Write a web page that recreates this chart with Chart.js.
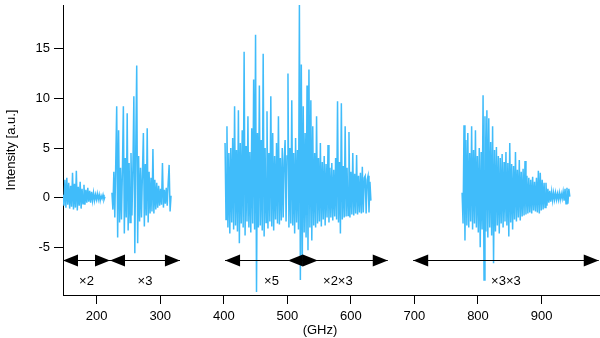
<!DOCTYPE html>
<html>
<head>
<meta charset="utf-8">
<script src="https://cdn.jsdelivr.net/npm/chart.js@4/dist/chart.umd.min.js"></script>
<style>
  html, body { margin: 0; padding: 0; background: #fff; }
</style>
</head>
<body>
<canvas id="chart" width="600" height="338"></canvas>
<script>
// spectrum pieces, sampled every 1.5 GHz from their start frequency
const step = 1.5;
const seg1Start = 147;
const seg1 = [0.3,-0.8,1.8,-1.0,2.0,-0.7,1.5,-1.1,1.2,-0.9,2.5,-1.2,1.4,-1.0,2.7,-1.3,1.1,-0.8,1.6,-1.1,
  0.9,-0.6,1.3,-0.7,0.8,-0.5,1.0,-0.4,0.7,-0.5,0.6,-0.3,0.5,-0.3,0.3,-0.2,0.4,-0.2,0.3,-0.3,0.2,-0.1,0.3,-0.2,0.1];
const seg2Start = 224;
const seg2 = [0.5,-1.2,2.6,-2.0,3.5,9.2,-4.0,6.8,-2.5,3.0,-2.2,2.8,9.2,-3.6,4.0,-2.0,8.5,-3.3,3.5,-2.5,
  4.5,-1.8,3.0,10.2,-5.6,5.0,13.3,-4.6,4.2,-2.4,3.0,-2.0,2.5,6.5,-2.9,3.4,-1.8,7.0,-2.5,2.6,
  -1.6,2.0,-1.4,4.9,-1.6,1.8,-1.2,1.5,-1.0,1.2,-0.8,0.9,-0.7,3.5,-1.0,0.8,-0.6,1.0,-0.8,1.5,3.3,-1.4,0.2];
const seg3Start = 402;
const seg3 = [5.5,-2.2,7.2,-3.0,4.5,-3.6,5.0,-2.5,6.0,-3.2,9.2,-2.8,4.8,-3.4,8.8,-4.6,5.5,-2.6,6.8,-3.0,
  14.7,-3.8,5.2,-2.4,8.2,-3.0,4.6,-3.5,7.0,-2.6,11.9,-3.2,16.4,-9.5,6.5,-3.0,11.3,-2.8,5.8,-3.3,
  14.5,-3.9,5.0,-2.5,8.7,-3.1,4.5,-2.4,10.2,-2.9,6.5,-3.3,4.2,-2.2,5.5,-2.6,8.2,-2.7,4.0,-2.3,
  5.0,-2.0,3.8,5.8,-2.4,4.2,12.5,-3.0,5.0,-2.6,9.8,-2.8,4.5,-3.6,6.0,-2.5,4.8,-3.2,19.5,-8.3,
  13.4,-6.6,9.2,-3.5,6.5,-4.0,11.3,-5.3,12.9,-3.0,9.8,-4.3,7.2,-2.8,4.5,-3.0,8.2,-2.6,4.0,-2.4,
  5.5,-2.9,3.6,-2.2,4.2,-2.8,3.4,-2.0,5.3,-2.5,3.0,-2.0,3.5,-2.3,2.8,-1.9,4.0,-2.2,9.7,-2.5,
  3.6,-3.6,9.5,-2.2,3.2,-2.0,7.2,-1.9,3.0,-1.8,6.6,-2.0,2.6,-1.7,4.5,-1.8,2.4,-1.6,4.3,-1.7,
  2.2,-1.5,2.5,-1.6,3.1,-1.5,2.0,2.2,-1.6,1.8,2.2,-1.5,1.6,-0.3];
const seg4Start = 775;
const seg4 = [0.5,-2.6,7.3,-4.3,5.8,-2.8,6.5,-3.0,4.5,-2.4,7.2,-3.2,4.8,-2.6,6.8,-3.0,4.2,-3.5,5.0,-5.0,
  4.6,-3.2,10.3,-8.3,8.2,-3.4,8.8,-4.0,8.0,-3.0,5.6,-3.8,7.2,-6.6,4.8,-3.4,5.1,-2.8,4.2,-3.6,
  4.0,-2.6,4.4,-3.0,3.6,-2.4,4.6,-2.8,3.5,-3.9,5.5,-2.5,3.4,-3.2,3.2,-2.2,4.6,-2.4,2.8,-2.0,
  3.8,-2.3,2.6,-1.9,2.9,-1.8,3.7,-1.7,2.2,-1.6,2.0,-1.5,1.8,-1.6,2.1,-1.3,1.6,-1.4,2.0,-1.5,
  2.7,-1.6,2.5,-1.3,1.8,-1.2,1.5,-1.0,1.5,-0.8,0.9,-0.5,0.7,-0.4,0.6,-0.3,0.5,-0.2,0.5,-0.2,
  0.4,-0.2,0.5,-0.2,0.4,-0.1,0.6,-0.3,0.9,-0.6,1.0,-0.6,0.9,0.1];

const xTickValues = [200, 300, 400, 500, 600, 700, 800, 900];
const yTickValues = [-5, 0, 5, 10, 15];

// multiplier ranges shown as double arrows under the spectrum (GHz)
const arrowStarts = [147, 221, 402, 501, 698];
const arrowEnds = [221, 331, 548, 658, 990];
const arrowLabels = ['×2', '×3', '×5', '×2×3', '×3×3'];
const arrowLevel = -6.3;

const lineColor = 'rgb(64,188,250)';
const fontFamily = '"Liberation Sans", Arial, sans-serif';

function toPoints(start, values) {
  return values.map((v, i) => ({ x: start + i * step, y: v }));
}

function arrowHead(ctx, tipX, y, dir) {
  ctx.beginPath();
  ctx.moveTo(tipX, y);
  ctx.lineTo(tipX + dir * 15, y - 6);
  ctx.lineTo(tipX + dir * 15, y + 6);
  ctx.closePath();
  ctx.fill();
}

const arrows = {
  id: 'arrows',
  afterDatasetsDraw(chart) {
    const { ctx, scales: { x, y } } = chart;
    const py = Math.round(y.getPixelForValue(arrowLevel)) + 0.5;
    ctx.save();
    ctx.fillStyle = '#000';
    ctx.strokeStyle = '#000';
    ctx.lineWidth = 1.2;
    ctx.font = '13px ' + fontFamily;
    ctx.textAlign = 'center';
    ctx.textBaseline = 'middle';
    arrowStarts.forEach((s, i) => {
      const x0 = x.getPixelForValue(s);
      const x1 = x.getPixelForValue(arrowEnds[i]);
      ctx.beginPath();
      ctx.moveTo(x0, py);
      ctx.lineTo(x1, py);
      ctx.stroke();
      arrowHead(ctx, x0, py, 1);
      arrowHead(ctx, x1, py, -1);
      ctx.fillText(arrowLabels[i], (x0 + x1) / 2, py + 21);
    });
    // x axis title sits a little left of centre in the original
    ctx.fillText('(GHz)', 320, 330);
    ctx.restore();
  }
};

Chart.defaults.font.family = fontFamily;
Chart.defaults.font.size = 13;
Chart.defaults.color = '#000';

const segs = [[seg1Start, seg1], [seg2Start, seg2], [seg3Start, seg3], [seg4Start, seg4]];

new Chart(document.getElementById('chart'), {
  type: 'line',
  data: {
    datasets: segs.map(([start, vals]) => ({
      data: toPoints(start, vals),
      borderColor: lineColor,
      borderWidth: 1.5,
      pointRadius: 0,
      tension: 0,
      fill: false
    }))
  },
  options: {
    responsive: false,
    animation: false,
    layout: { padding: { top: 5, right: 0, left: 0, bottom: 0 } },
    plugins: { legend: { display: false }, tooltip: { enabled: false } },
    scales: {
      x: {
        type: 'linear',
        min: 147,
        max: 992,
        afterBuildTicks: (scale) => { scale.ticks = xTickValues.map(v => ({ value: v })); },
        afterFit: (scale) => {
          scale.height = 43;
          scale.paddingLeft = 0;
          scale.paddingRight = 0;
        },
        ticks: { padding: 5, maxRotation: 0, autoSkip: false },
        grid: { drawOnChartArea: false, drawTicks: true, tickLength: 9, color: '#000' },
        border: { display: true, color: '#000', width: 1 }
      },
      y: {
        min: -9.8,
        max: 19.4,
        afterBuildTicks: (scale) => { scale.ticks = yTickValues.map(v => ({ value: v })); },
        afterFit: (scale) => {
          scale.width = 63;
          scale.paddingTop = 0;
          scale.paddingBottom = 0;
        },
        ticks: { padding: 4 },
        grid: { drawOnChartArea: false, drawTicks: true, tickLength: 9, color: '#000' },
        border: { display: true, color: '#000', width: 1 },
        title: { display: true, text: 'Intensity [a.u.]', padding: { top: 4, bottom: 0 } }
      }
    }
  },
  plugins: [arrows]
});
</script>
</body>
</html>
